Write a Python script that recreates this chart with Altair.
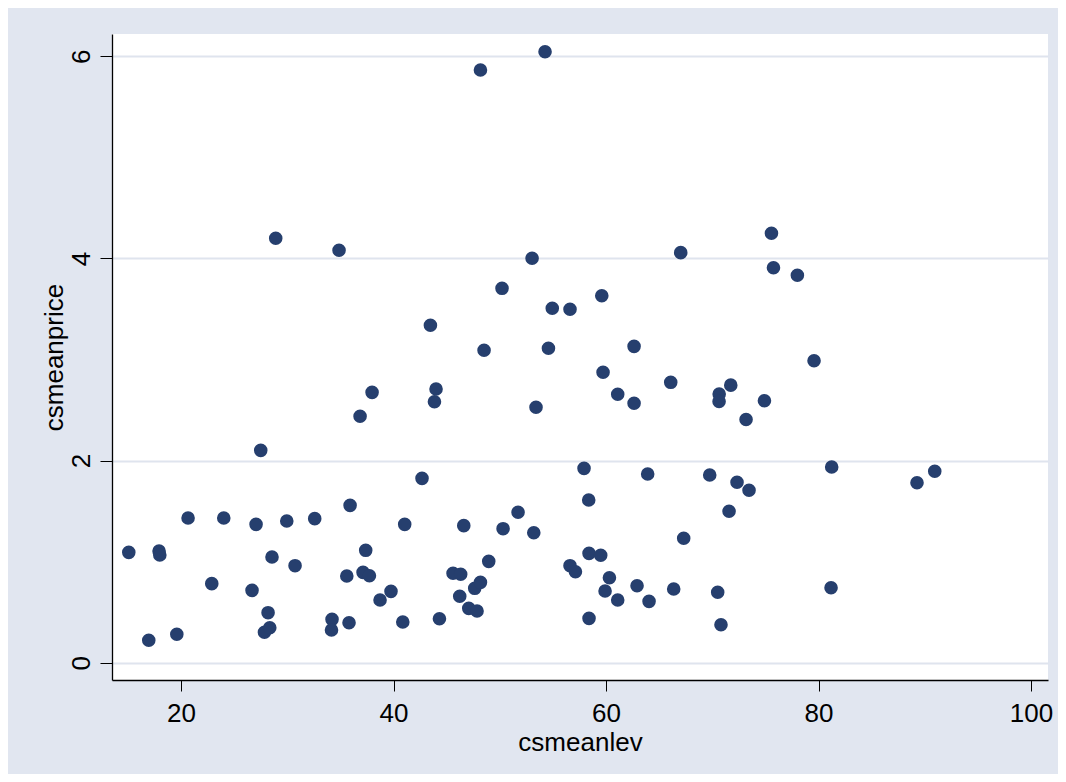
import altair as alt
import pandas as pd

csmeanlev = [
    15.08, 17.93, 18.00, 16.96, 19.60, 20.66, 24.02, 22.89, 26.68, 27.06,
    27.50, 28.91, 28.19, 28.56, 27.85, 28.35, 29.95, 30.73, 32.58, 34.87,
    34.21, 34.16, 35.91, 35.60, 35.81, 36.85, 37.38, 37.13, 37.73, 37.98,
    38.73, 39.76, 41.05, 40.87, 42.68, 43.47, 44.00, 43.85, 44.32, 45.60,
    46.32, 46.61, 46.23, 47.08, 47.86, 47.64, 48.18, 48.18, 48.52, 48.96,
    50.21, 50.31, 51.72, 53.04, 53.41, 53.20, 54.26, 54.58, 54.94, 56.61,
    56.61, 57.12, 57.93, 58.37, 58.40, 58.40, 59.50, 59.60, 59.72, 59.91,
    60.32, 61.10, 61.10, 62.64, 62.64, 62.92, 63.92, 64.05, 66.09, 66.37,
    67.03, 67.31, 69.76, 70.51, 70.65, 70.64, 70.82, 71.74, 71.58, 72.33,
    73.18, 73.46, 74.91, 75.57, 75.76, 78.01, 79.58, 81.24, 81.18, 89.27,
    90.94,
]
csmeanprice = [
    1.092, 1.105, 1.066, 0.222, 0.281, 1.432, 1.432, 0.782, 0.716, 1.369,
    2.101, 4.199, 0.495, 1.046, 0.301, 0.346, 1.402, 0.960, 1.425, 4.080,
    0.429, 0.324, 1.557, 0.858, 0.396, 2.438, 1.112, 0.894, 0.861, 2.675,
    0.620, 0.706, 1.369, 0.403, 1.824, 3.338, 2.708, 2.582, 0.435, 0.885,
    0.875, 1.356, 0.657, 0.538, 0.512, 0.736, 0.795, 5.864, 3.091, 1.003,
    3.704, 1.326, 1.488, 4.001, 2.528, 1.286, 6.045, 3.111, 3.507, 3.497,
    0.960, 0.900, 1.923, 1.610, 1.082, 0.439, 1.063, 3.631, 2.873, 0.709,
    0.841, 2.656, 0.620, 3.130, 2.567, 0.762, 1.867, 0.607, 2.774, 0.729,
    4.057, 1.231, 1.857, 0.697, 2.659, 2.584, 0.376, 2.746, 1.498, 1.785,
    2.406, 1.706, 2.592, 4.249, 3.908, 3.833, 2.988, 1.936, 0.742, 1.781,
    1.894,
]
x_ticks = [20, 40, 60, 80, 100]
y_ticks = [0, 2, 4, 6]

df = pd.DataFrame({"csmeanlev": csmeanlev, "csmeanprice": csmeanprice})

FONT = "Liberation Sans"
W, H = 936, 646

chart = (
    alt.Chart(df)
    .mark_circle(size=185, opacity=1, color="#263f6e")
    .encode(
        x=alt.X(
            "csmeanlev:Q",
            scale=alt.Scale(domain=[13.5, 101.6], nice=False, zero=False),
            axis=alt.Axis(
                values=x_ticks,
                grid=False,
                title="csmeanlev",
                domainColor="black",
                domainWidth=1.3,
                tickColor="black",
                tickWidth=1,
                tickSize=11,
                labelFont=FONT,
                labelFontSize=26,
                labelColor="black",
                labelBaseline="alphabetic",
                labelPadding=30,
                titleFont=FONT,
                titleFontSize=26,
                titleFontWeight="normal",
                titleColor="black",
                titleBaseline="alphabetic",
                titleAlign="center",
                titleX=W / 2,
                titleY=70,
            ),
        ),
        y=alt.Y(
            "csmeanprice:Q",
            scale=alt.Scale(domain=[-0.171, 6.22], nice=False, zero=False),
            axis=alt.Axis(
                values=y_ticks,
                grid=True,
                gridColor="#dfe4ee",
                gridWidth=2,
                title="csmeanprice",
                domainColor="black",
                domainWidth=1.3,
                tickColor="black",
                tickWidth=1,
                tickSize=12,
                labelFont=FONT,
                labelFontSize=26,
                labelColor="black",
                labelAngle=270,
                labelAlign="center",
                labelBaseline="alphabetic",
                labelPadding=11,
                titleFont=FONT,
                titleFontSize=26,
                titleFontWeight="normal",
                titleColor="black",
                titleAngle=270,
                titleAlign="center",
                titleBaseline="alphabetic",
                titleX=-50,
                titleY=H / 2,
            ),
        ),
    )
    .properties(
        width=W,
        height=H,
        background="#e1e6f0",
        padding={"left": 104, "top": 26, "right": 10, "bottom": 94},
        autosize=alt.AutoSizeParams(type="none"),
    )
    .configure_view(fill="white", stroke=None)
)

chart.save("out.html", embed_options={"renderer": "svg", "actions": False})
